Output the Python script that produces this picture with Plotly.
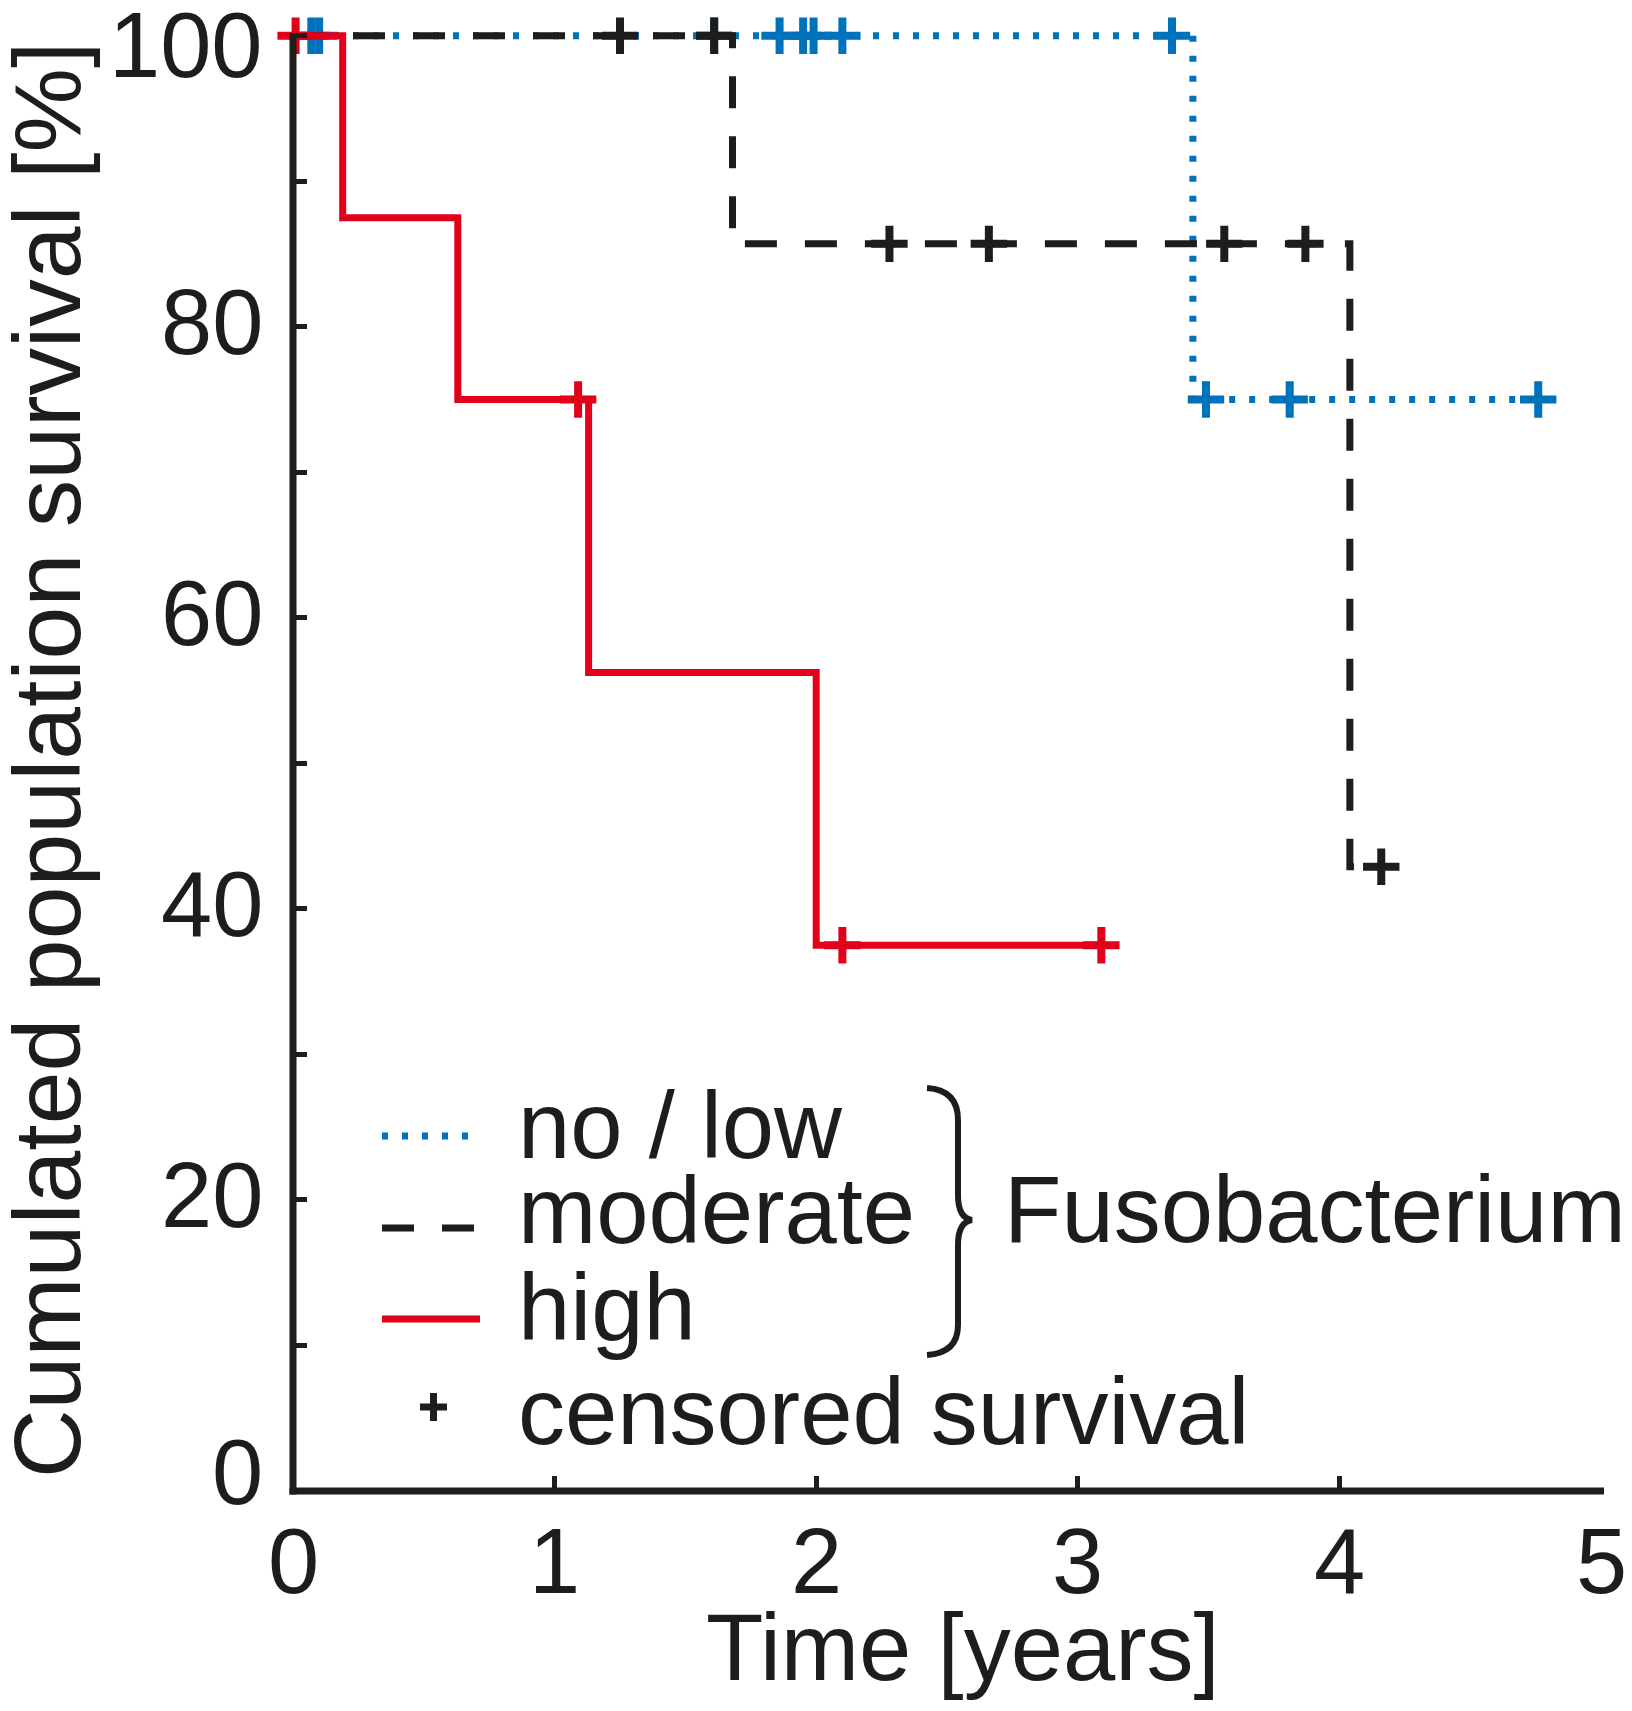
import plotly.graph_objects as go

# ---------------- data ----------------
# step curves (Kaplan-Meier): event times [years] and survival after event [%]
low_time = [0.0, 3.44, 4.76]
low_surv = [100.0, 75.0, 75.0]
low_cens_time = [0.07, 0.10, 1.61, 1.86, 1.95, 1.99, 2.10, 3.36, 3.49, 3.81, 4.76]
low_cens_surv = [100, 100, 100, 100, 100, 100, 100, 100, 75, 75, 75]

mod_time = [0.0, 1.68, 4.04, 4.16]
mod_surv = [100.0, 85.7, 42.9, 42.9]
mod_cens_time = [1.25, 1.61, 2.28, 2.66, 3.56, 3.87, 4.16]
mod_cens_surv = [100, 100, 85.7, 85.7, 85.7, 85.7, 42.9]

high_time = [0.0, 0.19, 0.63, 1.13, 2.00, 3.09]
high_surv = [100.0, 87.5, 75.0, 56.25, 37.5, 37.5]
high_cens_time = [0.01, 1.09, 2.10, 3.09]
high_cens_surv = [100, 75, 37.5, 37.5]

x_ticks = [0, 1, 2, 3, 4, 5]
y_ticks = [0, 20, 40, 60, 80, 100]

legend_labels = ["no / low", "moderate", "high", "censored survival"]
group_label = "Fusobacterium"
x_title = "Time [years]"
y_title = "Cumulated population survival [%]"

# ---------------- style ----------------
BLUE = "#0072bc"
BLACK = "#1d1d1b"
RED = "#e2001a"
FONT = "Liberation Sans, Arial, sans-serif"
FS = 92
FL = 94
W, H = 1632, 1711
OFF = 8  # page body margin (screen px offset)
# plot area in screen pixels
SL, SR, ST, SB = 293, 1601, 27, 1491
ML, MR, MT, MB = SL - OFF, W - (SR - OFF), ST - OFF, H - (SB - OFF)


def px(x):
    return (x - SL) / (SR - SL)


def py(y):
    return (SB - y) / (SB - ST)


fig = go.Figure()

series = [
    (low_time, low_surv, low_cens_time, low_cens_surv, BLUE, "6px,14px"),
    (mod_time, mod_surv, mod_cens_time, mod_cens_surv, BLACK, "32px,28px"),
    (high_time, high_surv, high_cens_time, high_cens_surv, RED, "solid"),
]
for t, s, ct, cs, col, dash in series:
    fig.add_trace(go.Scatter(x=t, y=s, mode="lines", line=dict(color=col, width=7, dash=dash, shape="hv"),
                             showlegend=False, hoverinfo="skip"))
    fig.add_trace(go.Scatter(x=ct, y=cs, mode="markers",
                             marker=dict(symbol="cross-thin", size=26, line=dict(color=col, width=8)),
                             cliponaxis=False, showlegend=False, hoverinfo="skip"))

fig.update_layout(
    width=W, height=H, margin=dict(l=ML, r=MR, t=MT, b=MB, autoexpand=False),
    paper_bgcolor="white", plot_bgcolor="white",
    font=dict(family=FONT, size=FS, color=BLACK),
    xaxis=dict(range=[0, 5], tickvals=x_ticks, showticklabels=False,
               showline=False, ticks="inside", ticklen=15, tickwidth=5,
               tickcolor=BLACK, showgrid=False, zeroline=False, automargin=False),
    yaxis=dict(range=[0, 100.6], tickvals=y_ticks, showticklabels=False,
               showline=False, ticks="inside", ticklen=14, tickwidth=5,
               tickcolor=BLACK, showgrid=False, zeroline=False, automargin=False,
               minor=dict(dtick=10, ticks="inside", ticklen=14, tickwidth=5, tickcolor=BLACK, showgrid=False)),
)

# axis lines
fig.add_shape(type="line", xref="paper", yref="paper", x0=px(289.5), x1=px(1604), y0=0, y1=0,
              line=dict(color=BLACK, width=7), layer="above")
fig.add_shape(type="line", xref="paper", yref="paper", x0=0, x1=0, y0=py(1494.5), y1=py(33),
              line=dict(color=BLACK, width=7), layer="above")

# tick labels (end labels nudged inward as in the original)
y_label_shift = {0: 19, 100: -9}
for v in x_ticks:
    fig.add_annotation(x=v, y=py(1561), xref="x", yref="paper", text=str(v), showarrow=False,
                       xanchor="center", yanchor="middle", font=dict(size=FS, family=FONT, color=BLACK))
for v in y_ticks:
    fig.add_annotation(x=px(265), y=v, xref="paper", yref="y", text=str(v), showarrow=False,
                       xanchor="right", yanchor="middle", yshift=y_label_shift.get(v, 5),
                       font=dict(size=FS, family=FONT, color=BLACK))

# axis titles
fig.add_annotation(x=px(963), y=py(1647), xref="paper", yref="paper", text=x_title, showarrow=False,
                   font=dict(size=FS + 2, family=FONT, color=BLACK), xanchor="center", yanchor="middle")
fig.add_annotation(x=px(47), y=py(760), xref="paper", yref="paper", text=y_title, showarrow=False,
                   textangle=-90, font=dict(size=95, family=FONT, color=BLACK),
                   xanchor="center", yanchor="middle")

# legend samples
leg_rows = [1136, 1228, 1319]
leg_styles = [(BLUE, "6px,14px"), (BLACK, "32px,28px"), (RED, "solid")]
for yy, (col, dash) in zip(leg_rows, leg_styles):
    fig.add_shape(type="line", xref="paper", yref="paper", x0=px(382), x1=px(480), y0=py(yy), y1=py(yy),
                  line=dict(color=col, width=7, dash=dash))
# censor sample cross
fig.add_shape(type="line", xref="paper", yref="paper", x0=px(420), x1=px(447), y0=py(1407), y1=py(1407),
              line=dict(color=BLACK, width=7))
fig.add_shape(type="line", xref="paper", yref="paper", x0=px(433.5), x1=px(433.5), y0=py(1393), y1=py(1421),
              line=dict(color=BLACK, width=7))

text_rows = [1125, 1210, 1307, 1411]
for yy, lab in zip(text_rows, legend_labels):
    fig.add_annotation(x=px(516), y=py(yy), xref="paper", yref="paper", text=lab, showarrow=False,
                       xanchor="left", yanchor="middle", font=dict(size=FL, family=FONT, color=BLACK))

# brace
pts = [(927, 1088), (958, 1090), (958, 1120), (958, 1195), (958, 1218), (972, 1220),
       (958, 1222), (958, 1245), (958, 1325), (958, 1353), (927, 1355)]
P = [(px(a), py(b)) for a, b in pts]
path = ("M {0[0]} {0[1]} Q {1[0]} {1[1]} {2[0]} {2[1]} L {3[0]} {3[1]} Q {4[0]} {4[1]} {5[0]} {5[1]} "
        "Q {6[0]} {6[1]} {7[0]} {7[1]} L {8[0]} {8[1]} Q {9[0]} {9[1]} {10[0]} {10[1]}").format(*P)
fig.add_shape(type="path", xref="paper", yref="paper", path=path, line=dict(color=BLACK, width=6))

fig.add_annotation(x=px(1002), y=py(1209), xref="paper", yref="paper", text=group_label, showarrow=False,
                   xanchor="left", yanchor="middle", font=dict(size=FL, family=FONT, color=BLACK))

fig.write_html("out.html")
